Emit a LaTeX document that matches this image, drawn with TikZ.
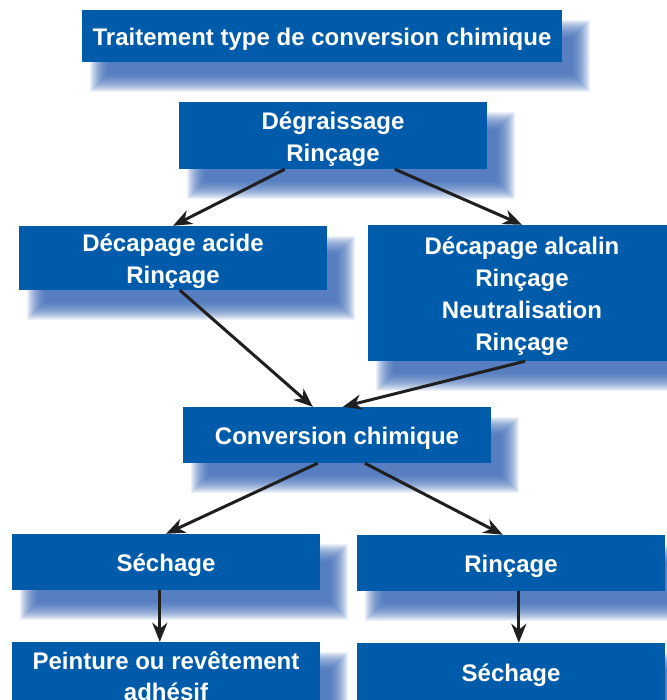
\documentclass[tikz,border=0pt]{standalone}
\usepackage{fontspec}
\setmainfont{Liberation Sans}
\usetikzlibrary{arrows.meta,calc,backgrounds}
\definecolor{boxblue}{RGB}{0,92,170}
\definecolor{shblue}{RGB}{50,98,178}
\begin{document}
\begin{tikzpicture}[x=1pt,y=-1pt,
  stepbox/.style={fill=boxblue, inner sep=0pt, minimum width=308pt},
  steptext/.style={text=white, font=\bfseries\fontsize{24}{32}\selectfont,
    align=center, inner sep=0pt},
  arr/.style={draw=black!88, line width=3pt, -{Stealth[length=19pt,width=15pt,inset=6pt]}}]
\useasboundingbox (0,0) rectangle (666,700);

\node[stepbox, minimum width=480pt, minimum height=52pt] (title) at (322,36) {};
\node[stepbox, minimum height=67pt] (degr) at (333,135.5) {};
\node[stepbox, minimum height=64pt] (acide) at (173,258) {};
\node[stepbox, minimum height=136pt] (alcalin) at (522,293) {};
\node[stepbox, minimum height=56pt] (conv) at (337,435) {};
\node[stepbox, minimum height=56pt] (sech1) at (166,562) {};
\node[stepbox, minimum height=56pt] (rinc) at (511,563) {};
\node[stepbox, minimum height=66pt] (peint) at (166,675) {};
\node[stepbox, minimum height=58pt] (sech2) at (511,672) {};

\node[steptext] (title-t) at ($(title.center)+(0,3.5)$) {Traitement type de conversion chimique};
\node[steptext] (degr-t) at ($(degr.center)+(0,3.5)$) {Dégraissage\\Rinçage};
\node[steptext] (acide-t) at ($(acide.center)+(0,3)$) {Décapage acide\\Rinçage};
\node[steptext] (alcalin-t) at ($(alcalin.center)+(0,3)$) {Décapage alcalin\\Rinçage\\Neutralisation\\Rinçage};
\node[steptext] (conv-t) at ($(conv.center)+(0,3.5)$) {Conversion chimique};
\node[steptext] (sech1-t) at ($(sech1.center)+(0,3.5)$) {Séchage};
\node[steptext] (rinc-t) at ($(rinc.center)+(0,3.5)$) {Rinçage};
\node[steptext, font=\bfseries\fontsize{24}{30.5}\selectfont] (peint-t) at ($(peint.center)+(0,1)$) {Peinture ou revêtement\\adhésif};
\node[steptext] (sech2-t) at ($(sech2.center)+(0,3)$) {Séchage};

\begin{scope}[on background layer]
\foreach \n in {title,degr,acide,alcalin,conv,sech1,rinc,peint,sech2}{
  \foreach \e in {10,9,...,-8}{
    \fill[shblue,opacity=0.085] ($(\n.north west)+(18-\e,20-\e)$) rectangle ($(\n.south east)+(18+\e,20+\e)$);
  }}
\end{scope}

\draw[arr] ($(degr.south west)+(106,0)$) -- (acide.north);
\draw[arr] ($(degr.south west)+(216,0)$) -- (alcalin.north);
\draw[arr] ($(acide.south west)+(161,0)$) -- ($(conv.north west)+(130,0)$);
\draw[arr] ($(alcalin.south)+(3,0)$) -- ($(conv.north west)+(160,0)$);
\draw[arr] ($(conv.south west)+(135,0)$) -- (sech1.north);
\draw[arr] ($(conv.south west)+(182,0)$) -- ($(rinc.north west)+(146,0)$);
\draw[arr] ($(sech1.south west)+(148,0)$) -- ($(peint.north west)+(148,0)$);
\draw[arr] ($(rinc.south west)+(162,0)$) -- ($(sech2.north west)+(162,0)$);
\end{tikzpicture}
\end{document}
